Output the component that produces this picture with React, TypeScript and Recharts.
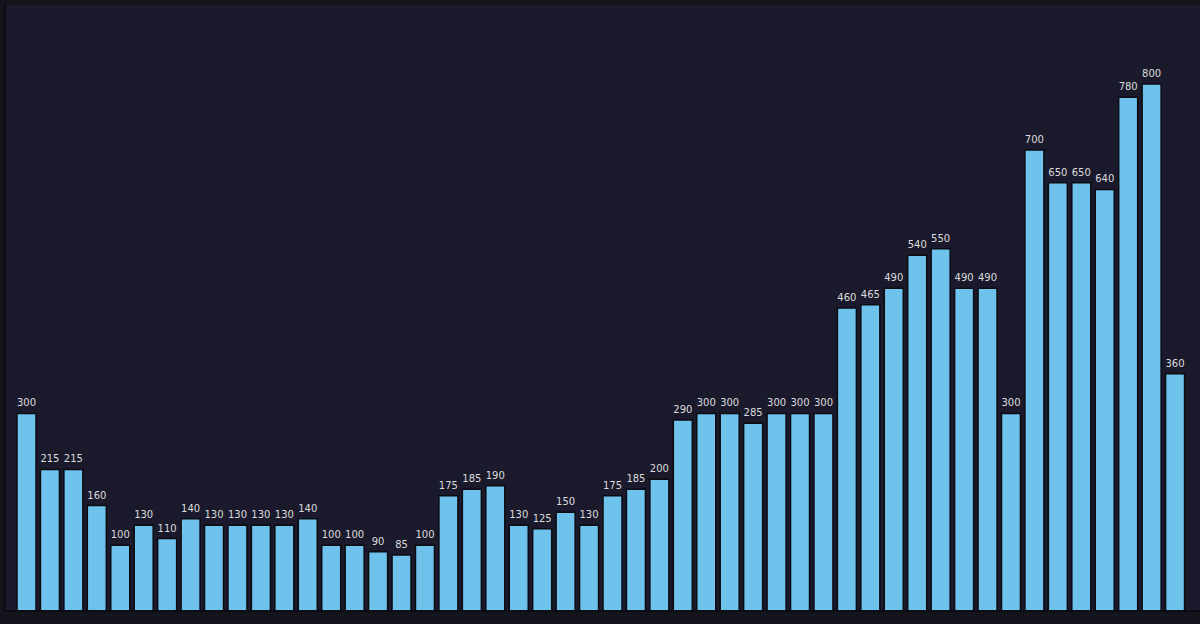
import { BarChart, Bar, XAxis, YAxis, LabelList } from 'recharts'

// categories are not readable in the picture (tick labels are cropped off)
const days = [
  '1', '2', '3', '4', '5', '6', '7', '8', '9', '10',
  '11', '12', '13', '14', '15', '16', '17', '18', '19', '20',
  '21', '22', '23', '24', '25', '26', '27', '28', '29', '30',
  '31', '32', '33', '34', '35', '36', '37', '38', '39', '40',
  '41', '42', '43', '44', '45', '46', '47', '48', '49', '50',
]

const counts = [
  300, 215, 215, 160, 100, 130, 110, 140, 130, 130,
  130, 130, 140, 100, 100, 90, 85, 100, 175, 185,
  190, 130, 125, 150, 130, 175, 185, 200, 290, 300,
  300, 285, 300, 300, 300, 460, 465, 490, 540, 550,
  490, 490, 300, 700, 650, 650, 640, 780, 800, 360,
]

const xTicks = ['1', '10', '20', '30', '40', '50']
const yTicks = [0, 200, 400, 600, 800]

export default function App() {
  const data = days.map((d, i) => ({ day: d, count: counts[i] }))

  return (
    <div
      style={{
        position: 'absolute',
        left: 0,
        top: 0,
        width: 1200,
        height: 624,
        background: '#14141c',
        overflow: 'hidden',
      }}
    >
      <BarChart
        width={1200}
        height={624}
        data={data}
        margin={{ top: 5, right: 0, bottom: 0, left: 0 }}
        style={{ background: 'transparent' }}
      >
        <rect x={5} y={5} width={1195} height={606} fill="#1a1a2c" />
        <XAxis
          dataKey="day"
          ticks={xTicks}
          interval={0}
          height={13}
          padding={{ left: 10, right: 13 }}
          tick={false}
          tickSize={5}
          axisLine={{ stroke: '#08080c', strokeWidth: 1.5 }}
          tickLine={{ stroke: '#2e2e3a' }}
        />
        <YAxis
          width={5}
          domain={[0, 920]}
          ticks={yTicks}
          tick={false}
          tickSize={5}
          axisLine={{ stroke: '#08080c', strokeWidth: 1.5 }}
          tickLine={{ stroke: '#2e2e3a' }}
        />
        <Bar
          dataKey="count"
          fill="#6ec2ec"
          stroke="#0b0b12"
          strokeWidth={1.5}
          barSize={19}
          isAnimationActive={false}
        >
          <LabelList
            dataKey="count"
            position="top"
            offset={7}
            fill="#dcdcdc"
            fontSize={10}
            fontFamily="DejaVu Sans"
          />
        </Bar>
      </BarChart>
    </div>
  )
}
